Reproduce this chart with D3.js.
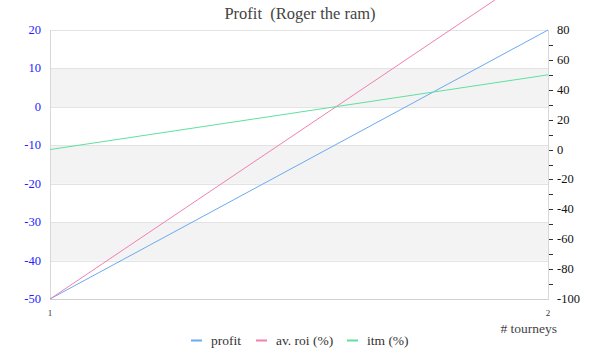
<!DOCTYPE html>
<html><head><meta charset="utf-8">
<script src="https://cdn.jsdelivr.net/npm/d3@7"></script>
<style>body{margin:0;background:#fff}svg{display:block}</style>
</head><body><svg id="c" width="600" height="360"></svg>
<script>
const tourneys = [1, 2];
const profit = [-50, 20];
const avRoi = [-100, 124];
const itm = [0, 50];
const leftTicks = [-50, -40, -30, -20, -10, 0, 10, 20];
const rightTicks = [-100, -80, -60, -40, -20, 0, 20, 40, 60, 80];
const rightMinor = [-90, -70, -50, -30, -10, 10, 30, 50, 70];
const seriesNames = ["profit", "av. roi (%)", "itm (%)"];
const seriesColors = ["#6aaaf0", "#f27fb2", "#5fe0a2"];

const font = "'Liberation Serif', 'DejaVu Serif', serif";
const svg = d3.select("#c");
const L = 50, R = 548, T = 30, B = 299;
const x = d3.scaleLinear().domain([1, 2]).range([L, R]);
const yL = d3.scaleLinear().domain([-50, 20]).range([B, T]);
const yR = d3.scaleLinear().domain([-100, 80]).range([B, T]);

// bands
for (let i = 0; i < leftTicks.length - 1; i++) {
  if (i % 2 === 1) {
    svg.append("rect").attr("x", L).attr("width", R - L)
      .attr("y", yL(leftTicks[i + 1])).attr("height", yL(leftTicks[i]) - yL(leftTicks[i + 1]))
      .attr("fill", "#f3f3f3");
  }
}
// grid
svg.append("g").selectAll("line").data(leftTicks).join("line")
  .attr("x1", L).attr("x2", R).attr("y1", d => Math.round(yL(d)) + 0.5).attr("y2", d => Math.round(yL(d)) + 0.5)
  .attr("stroke", "#e3e3e3");
// plot border sides
svg.append("line").attr("x1", L + 0.5).attr("x2", L + 0.5).attr("y1", T).attr("y2", B + 1).attr("stroke", "#d8d8d8");
svg.append("line").attr("x1", R + 0.5).attr("x2", R + 0.5).attr("y1", T).attr("y2", B + 1).attr("stroke", "#d8d8d8");
svg.append("line").attr("x1", L).attr("x2", R).attr("y1", B + 0.5).attr("y2", B + 0.5).attr("stroke", "#d0d0d0");

// left axis labels
svg.append("g").selectAll("text").data(leftTicks).join("text")
  .attr("x", 41).attr("y", d => yL(d) + 4).attr("text-anchor", "end")
  .attr("font-family", font).attr("font-size", 12.5).attr("fill", "#2222ff").text(d => d);
// right axis
svg.append("g").selectAll("line").data(rightTicks.concat(rightMinor).filter(d => d !== 80 && d !== -100)).join("line")
  .attr("x1", R + 1).attr("x2", R + 5).attr("y1", d => Math.round(yR(d)) + 0.5).attr("y2", d => Math.round(yR(d)) + 0.5)
  .attr("stroke", "#333");
svg.append("g").selectAll("text").data(rightTicks).join("text")
  .attr("x", 557).attr("y", d => yR(d) + 4).attr("text-anchor", "start")
  .attr("font-family", font).attr("font-size", 12.5).attr("fill", "#111").text(d => d);
// x axis labels
svg.append("g").selectAll("text").data(tourneys).join("text")
  .attr("x", d => x(d)).attr("y", 316).attr("text-anchor", "middle")
  .attr("font-family", font).attr("font-size", 9).attr("fill", "#333").text(d => d);
svg.append("text").attr("x", 557).attr("y", 333).attr("text-anchor", "end")
  .attr("font-family", font).attr("font-size", 13.5).attr("fill", "#444").text("# tourneys");

// lines
const data = [
  {vals: profit, y: yL},
  {vals: avRoi, y: yR},
  {vals: itm, y: yR}
];
data.forEach((s, i) => {
  const line = d3.line().x((d, j) => x(tourneys[j])).y(d => s.y(d));
  svg.append("path").attr("d", line(s.vals)).attr("fill", "none")
    .attr("stroke", seriesColors[i]).attr("stroke-width", 1);
});

// title
svg.append("text").attr("x", 300).attr("y", 19).attr("text-anchor", "middle")
  .style("white-space", "pre")
  .attr("font-family", font).attr("font-size", 16.5).attr("fill", "#444").text("Profit  (Roger the ram)");

// legend
const legX = [191, 256, 347];
seriesNames.forEach((n, i) => {
  svg.append("line").attr("x1", legX[i]).attr("x2", legX[i] + 11).attr("y1", 340.5).attr("y2", 340.5)
    .attr("stroke", seriesColors[i]).attr("stroke-width", 2);
  svg.append("text").attr("x", legX[i] + 20).attr("y", 344.5).attr("font-family", font)
    .attr("font-size", 13.5).attr("fill", "#333").text(n);
});
</script></body></html>
